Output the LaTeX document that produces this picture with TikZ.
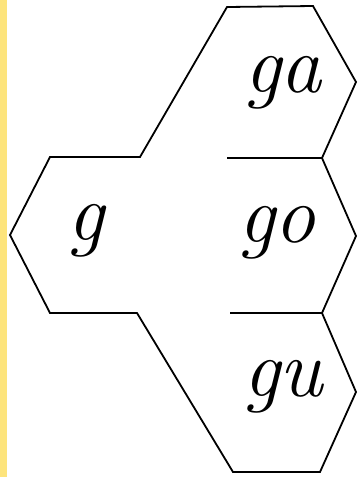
\documentclass[tikz,border=0pt]{standalone}
\begin{document}
\begin{tikzpicture}[x=1pt,y=-1pt,
  outline/.style={line width=1.8pt, line join=miter},
  word/.style={anchor=base, inner sep=0pt, font=\fontsize{82}{90}\selectfont\itshape}]
\useasboundingbox (0,0) rectangle (357,477);
\fill[white] (0,0) rectangle (357,477);
\fill[yellow!65!orange!50!white] (0,0) rectangle (7,477);
% outline vertices
\coordinate (a1) at (50,157);
\coordinate (a2) at (140,157);
\coordinate (b1) at (227,7);
\coordinate (b2) at (313,6);
\coordinate (b3) at (356,82);
\coordinate (c1) at (322,158);
\coordinate (c2) at (356,236);
\coordinate (c3) at (322,313);
\coordinate (d1) at (356,392);
\coordinate (d2) at (320,472);
\coordinate (d3) at (233,472);
\coordinate (e1) at (137,313);
\coordinate (e2) at (50,313);
\coordinate (e3) at (10,235);
\draw[outline] (a1) -- (a2) -- (b1) -- (b2) -- (b3) -- (c1) -- (c2) -- (c3)
  -- (d1) -- (d2) -- (d3) -- (e1) -- (e2) -- (e3) -- cycle;
% inner dividers
\coordinate (m1) at (227,158);
\coordinate (m2) at (230,313);
\draw[outline] (m1) -- (c1);
\draw[outline] (m2) -- (c3);
% words
\node[word] (ga) at (283,92) {ga};
\node[word] (go) at (277,242) {go};
\node[word] (gu) at (283,396) {gu};
\node[word] (g) at (86,240) {g};
\end{tikzpicture}
\end{document}
